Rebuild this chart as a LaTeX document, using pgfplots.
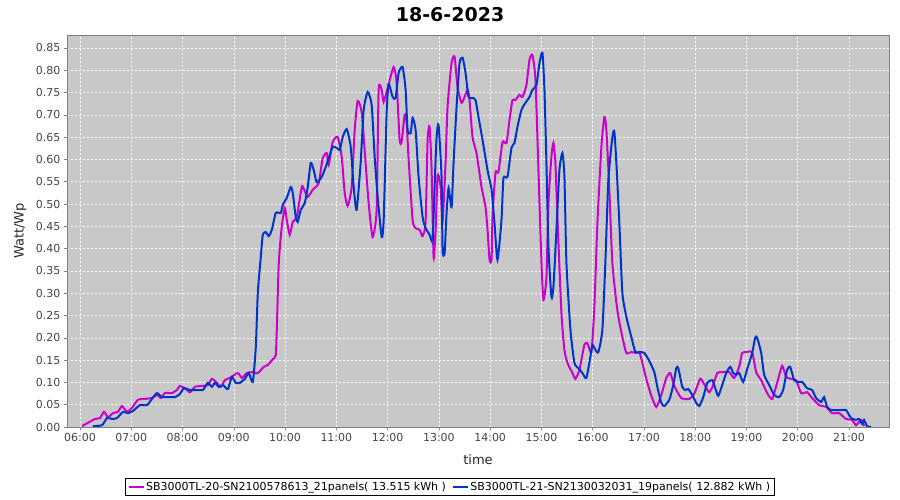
\documentclass[border=0pt]{standalone}
\usepackage{fontspec}
\setmainfont{DejaVu Sans}
\usepackage{pgfplots}
\usepackage{pgfplotstable}
\pgfplotsset{compat=1.18}
\definecolor{magc}{RGB}{204,0,204}
\definecolor{bluc}{RGB}{0,51,204}
\definecolor{bgc}{RGB}{200,200,200}
\definecolor{tickc}{RGB}{68,68,68}
\definecolor{framec}{RGB}{128,128,128}

\pgfplotstableread{
h v
6.039 0.002
6.292 0.018
6.390 0.020
6.468 0.034
6.545 0.022
6.643 0.031
6.740 0.034
6.818 0.047
6.916 0.034
7.013 0.043
7.130 0.061
7.266 0.063
7.403 0.065
7.500 0.072
7.578 0.065
7.656 0.076
7.792 0.076
7.890 0.083
7.948 0.092
8.046 0.087
8.143 0.078
8.240 0.090
8.377 0.092
8.494 0.094
8.572 0.108
8.669 0.099
8.747 0.090
8.825 0.105
8.922 0.110
9.078 0.121
9.156 0.110
9.253 0.121
9.351 0.123
9.468 0.121
9.585 0.135
9.663 0.139
9.760 0.152
9.818 0.161
9.838 0.218
9.877 0.368
9.935 0.449
9.994 0.491
10.033 0.464
10.091 0.431
10.150 0.460
10.228 0.471
10.325 0.538
10.364 0.534
10.442 0.516
10.539 0.532
10.656 0.547
10.734 0.603
10.812 0.614
10.851 0.588
10.929 0.639
11.026 0.650
11.104 0.606
11.163 0.525
11.221 0.496
11.299 0.538
11.358 0.666
11.416 0.731
11.494 0.706
11.552 0.621
11.630 0.502
11.708 0.426
11.786 0.487
11.825 0.756
11.884 0.756
11.923 0.729
12.000 0.760
12.117 0.807
12.176 0.771
12.234 0.644
12.273 0.639
12.332 0.700
12.371 0.684
12.410 0.599
12.488 0.464
12.546 0.446
12.624 0.442
12.682 0.428
12.741 0.460
12.780 0.644
12.819 0.673
12.858 0.576
12.897 0.381
12.936 0.442
12.975 0.565
13.033 0.538
13.072 0.460
13.130 0.592
13.169 0.718
13.247 0.816
13.306 0.830
13.364 0.762
13.442 0.727
13.501 0.740
13.559 0.756
13.598 0.733
13.656 0.650
13.734 0.614
13.832 0.538
13.910 0.493
13.949 0.442
13.988 0.375
14.027 0.375
14.046 0.471
14.104 0.570
14.163 0.572
14.241 0.639
14.319 0.637
14.377 0.688
14.436 0.733
14.494 0.733
14.572 0.745
14.631 0.740
14.708 0.767
14.767 0.823
14.825 0.834
14.884 0.778
14.942 0.576
15.001 0.368
15.040 0.285
15.098 0.336
15.137 0.502
15.195 0.606
15.234 0.637
15.273 0.592
15.312 0.471
15.390 0.256
15.449 0.173
15.507 0.144
15.605 0.121
15.663 0.108
15.741 0.128
15.838 0.184
15.897 0.188
15.975 0.168
16.033 0.269
16.092 0.457
16.170 0.628
16.228 0.695
16.267 0.666
16.325 0.532
16.384 0.368
16.481 0.262
16.579 0.202
16.657 0.166
16.754 0.168
16.851 0.166
16.910 0.168
16.968 0.144
17.046 0.108
17.144 0.070
17.241 0.045
17.339 0.072
17.436 0.110
17.514 0.121
17.592 0.092
17.728 0.065
17.884 0.063
17.981 0.074
18.098 0.108
18.176 0.096
18.273 0.078
18.351 0.094
18.429 0.121
18.527 0.123
18.663 0.123
18.760 0.110
18.858 0.135
18.916 0.166
19.014 0.168
19.111 0.168
19.189 0.123
19.287 0.105
19.404 0.076
19.501 0.063
19.598 0.099
19.696 0.137
19.774 0.112
19.871 0.108
19.969 0.105
20.066 0.076
20.183 0.078
20.280 0.065
20.417 0.049
20.553 0.045
20.670 0.031
20.806 0.031
20.943 0.018
21.060 0.016
21.137 0.004
21.235 0.016
21.293 0.002
}\magdata

\pgfplotstableread{
h v
6.253 0.002
6.429 0.004
6.526 0.020
6.623 0.018
6.721 0.020
6.838 0.034
6.935 0.031
7.033 0.036
7.169 0.049
7.305 0.049
7.403 0.063
7.500 0.076
7.598 0.067
7.714 0.067
7.851 0.067
7.948 0.074
8.026 0.087
8.143 0.083
8.279 0.083
8.396 0.083
8.494 0.099
8.572 0.090
8.630 0.099
8.708 0.090
8.786 0.094
8.883 0.085
8.961 0.112
9.039 0.099
9.117 0.099
9.215 0.108
9.292 0.121
9.370 0.101
9.429 0.179
9.468 0.301
9.526 0.381
9.565 0.431
9.624 0.437
9.682 0.428
9.741 0.442
9.818 0.480
9.916 0.480
9.955 0.498
10.033 0.514
10.111 0.538
10.150 0.525
10.208 0.471
10.247 0.460
10.306 0.487
10.383 0.502
10.442 0.538
10.500 0.592
10.559 0.576
10.617 0.549
10.715 0.561
10.793 0.583
10.870 0.610
10.929 0.628
11.007 0.626
11.065 0.621
11.124 0.650
11.202 0.668
11.280 0.628
11.338 0.538
11.396 0.487
11.474 0.592
11.533 0.711
11.611 0.751
11.689 0.722
11.747 0.606
11.806 0.516
11.884 0.426
11.923 0.464
11.981 0.704
12.020 0.769
12.098 0.740
12.156 0.738
12.215 0.794
12.293 0.807
12.351 0.756
12.390 0.666
12.449 0.659
12.488 0.693
12.546 0.666
12.604 0.561
12.682 0.471
12.741 0.446
12.819 0.431
12.877 0.419
12.916 0.538
12.955 0.650
12.994 0.677
13.052 0.561
13.072 0.397
13.111 0.390
13.150 0.480
13.189 0.536
13.247 0.493
13.286 0.592
13.345 0.718
13.403 0.816
13.462 0.828
13.520 0.794
13.578 0.740
13.656 0.738
13.715 0.733
13.773 0.695
13.851 0.644
13.949 0.576
14.027 0.532
14.085 0.457
14.143 0.375
14.221 0.464
14.260 0.558
14.338 0.561
14.416 0.626
14.475 0.637
14.533 0.673
14.611 0.711
14.689 0.727
14.767 0.740
14.825 0.756
14.903 0.767
14.962 0.816
15.020 0.839
15.059 0.756
15.098 0.592
15.137 0.404
15.195 0.292
15.234 0.314
15.293 0.442
15.351 0.576
15.410 0.614
15.449 0.561
15.488 0.368
15.566 0.218
15.644 0.144
15.721 0.132
15.799 0.121
15.877 0.110
15.955 0.157
15.994 0.184
16.053 0.173
16.111 0.168
16.189 0.218
16.247 0.368
16.306 0.554
16.384 0.650
16.423 0.662
16.462 0.592
16.520 0.457
16.579 0.301
16.657 0.247
16.754 0.202
16.832 0.168
16.910 0.168
17.007 0.166
17.105 0.148
17.202 0.123
17.261 0.090
17.339 0.054
17.397 0.047
17.494 0.061
17.572 0.094
17.631 0.132
17.670 0.132
17.748 0.090
17.806 0.083
17.865 0.085
17.942 0.072
18.020 0.054
18.079 0.047
18.157 0.067
18.235 0.099
18.332 0.105
18.390 0.087
18.449 0.070
18.527 0.094
18.605 0.121
18.683 0.135
18.741 0.121
18.799 0.117
18.858 0.121
18.936 0.101
19.014 0.130
19.111 0.166
19.170 0.200
19.209 0.200
19.287 0.166
19.345 0.117
19.443 0.094
19.540 0.072
19.637 0.067
19.715 0.083
19.793 0.128
19.852 0.135
19.930 0.105
20.008 0.101
20.086 0.101
20.183 0.087
20.280 0.083
20.358 0.065
20.456 0.056
20.514 0.067
20.573 0.045
20.650 0.038
20.748 0.038
20.845 0.038
20.943 0.038
21.040 0.020
21.137 0.016
21.196 0.018
21.254 0.007
21.293 0.016
21.351 0.002
21.429 0.000
}\bludata

\begin{document}
\begin{tikzpicture}
\begin{axis}[
  name=ax,
  scale only axis,
  width=822pt, height=392pt,
  xmin=5.746, xmax=21.78,
  ymin=0, ymax=0.879,
  axis background/.style={fill=bgc},
  axis line style={framec, line width=0.8pt},
  xtick={6,7,...,21},
  xticklabels={06:00,07:00,08:00,09:00,10:00,11:00,12:00,13:00,14:00,15:00,16:00,17:00,18:00,19:00,20:00,21:00},
  ytick distance=0.05,
  yticklabel style={/pgf/number format/fixed, /pgf/number format/precision=2, /pgf/number format/fixed zerofill},
  /pgf/number format/assume math mode=true,
  tick label style={font=\fontsize{11}{13}\selectfont, text=tickc},
  tick align=outside,
  major tick length=3pt,
  tick style={framec, line width=0.6pt},
  xtick pos=bottom, ytick pos=left,
  grid=major,
  major grid style={white, line width=0.6pt, dash pattern=on 2pt off 2pt},
  title={18-6-2023},
  title style={font=\bfseries\fontsize{19}{22}\selectfont, at={(axis description cs:0.466,1.038)}, anchor=center},
  xlabel={time},
  xlabel style={font=\fontsize{13}{15}\selectfont, text=black!85, at={(axis description cs:0.5,-0.084)}, anchor=center},
  ylabel={Watt/Wp},
  ylabel style={font=\fontsize{13}{15}\selectfont, text=black!85, at={(axis description cs:-0.057,0.5)}, anchor=center},
  legend columns=2,
  legend style={at={(axis description cs:0.466,-0.153)}, anchor=center, draw=black, line width=0.8pt, fill=white,
    font=\fontsize{11}{13}\selectfont, inner xsep=2pt, inner ysep=1.5pt, /tikz/every even column/.append style={column sep=4pt}},
  legend image code/.code={\draw[#1, line width=1.4pt] (0pt,0pt) -- (15pt,0pt);},
]
\addplot[magc, line width=2pt, smooth, tension=0.35] table[x=h, y=v] {\magdata};
\addlegendentry{SB3000TL-20-SN2100578613\_21panels( 13.515 kWh )}
\addplot[bluc, line width=2pt, smooth, tension=0.35] table[x=h, y=v] {\bludata};
\addlegendentry{SB3000TL-21-SN2130032031\_19panels( 12.882 kWh )}
\end{axis}
\pgfresetboundingbox
\path ([shift={(-67pt,-73pt)}]ax.south west) rectangle ++(900pt,500pt);
\end{tikzpicture}
\end{document}
